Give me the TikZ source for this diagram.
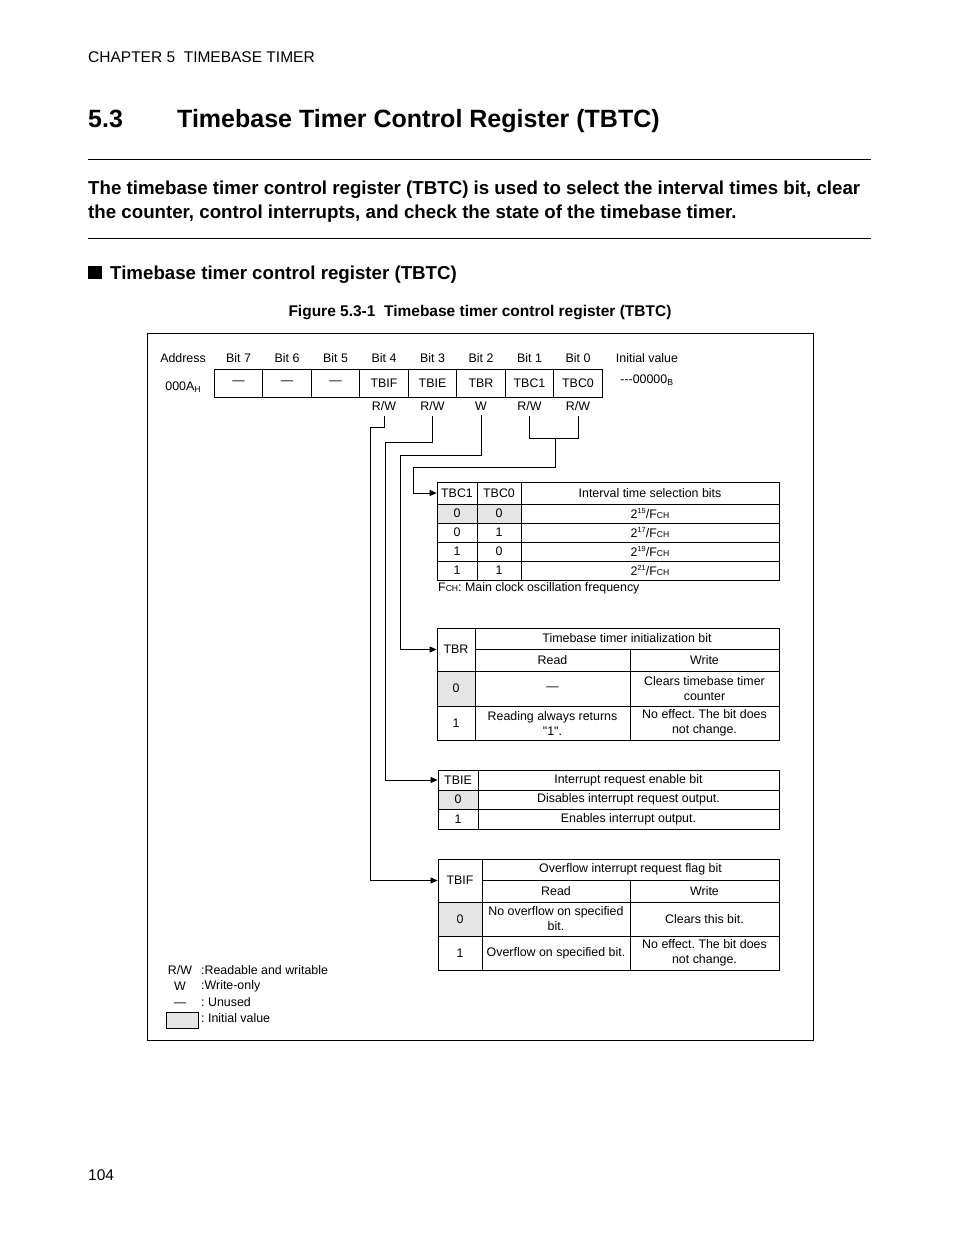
\documentclass[tikz,border=0pt]{standalone}
\usepackage{fontspec}
\setmainfont{Liberation Sans}
\newfontfamily\plainsans{Liberation Sans}
\usepackage{tikz}
\usetikzlibrary{arrows.meta}
\usepackage{xcolor}
\definecolor{initgray}{RGB}{229,229,229}
\frenchspacing
\newcommand{\cellfont}{\fontsize{12.4}{15}\selectfont}
\newcommand{\minicaps}[1]{{\fontsize{8.6}{9}\selectfont #1}}
\newcommand{\fch}{F\minicaps{CH}}
\newcommand{\pw}[1]{2\raisebox{0.42em}{\fontsize{7.4}{8}\selectfont #1}/\fch}
\tikzset{
  cell/.style={draw, line width=0.8pt, inner sep=1pt, align=center, font=\cellfont},
  initcell/.style={cell, fill=initgray},
  lbl/.style={inner sep=1pt, font=\cellfont},
  pagetext/.style={anchor=base west, inner sep=0pt},
  conn/.style={line width=0.8pt},
  arr/.style={conn, -{Triangle[length=7pt, width=6pt]}},
}

\begin{document}
\begin{tikzpicture}[x=1pt, y=-1pt]
  \useasboundingbox[fill=white] (0,0) rectangle (954,1235);
  % page head
  \node[pagetext, font=\fontsize{15.5}{18}\selectfont] (chap) at (88,62.5) {CHAPTER 5\ \ TIMEBASE TIMER};
  \node[pagetext, font=\fontsize{25}{28}\selectfont\bfseries] (secnum) at (88,127) {5.3};
  \node[pagetext, font=\fontsize{25}{28}\selectfont\bfseries] (sectitle) at (177,127) {Timebase Timer Control Register (TBTC)};
  \draw[line width=0.8pt] (88,159) -- (871,159);
  \node[pagetext, font=\fontsize{18.7}{24}\selectfont\bfseries] (intro1) at (88,194.8) {The timebase timer control register (TBTC) is used to select the interval times bit, clear};
  \node[pagetext, font=\fontsize{18.7}{24}\selectfont\bfseries] (intro2) at (88,218.8) {the counter, control interrupts, and check the state of the timebase timer.};
  \draw[line width=0.8pt] (88,238) -- (871,238);
  \fill (88,265.5) rectangle (102,279);
  \node[pagetext, font=\fontsize{18.7}{24}\selectfont\bfseries] (heading) at (110,279) {Timebase timer control register (TBTC)};
  \node[anchor=base, inner sep=0pt, font=\fontsize{15.5}{18}\selectfont\bfseries] (caption) at (480,316.5) {Figure 5.3-1\ \ Timebase timer control register (TBTC)};
  \draw[line width=0.8pt] (147,333) rectangle (813,1040);

  % register
  \node[lbl] (addr) at (183,358) {Address};
  \node[lbl] (addrval) at (183,387) {000A\raisebox{-0.12em}{\minicaps{H}}};
  \foreach \i/\fld in {7/—,6/—,5/—,4/TBIF,3/TBIE,2/TBR,1/TBC1,0/TBC0} {
    \pgfmathsetmacro{\bx}{238.5+(7-\i)*48.5}
    \node[lbl] (bitno\i) at (\bx,358) {Bit \i};
    \node[cell, minimum width=48.5pt, minimum height=28pt] (b\i) at (\bx,383) {\fld};
  }
  \foreach \i/\acc in {4/{R/W},3/{R/W},2/W,1/{R/W},0/{R/W}}
    \path (b\i.center) ++(0,23) node[lbl] (rw\i) {\acc};
  \node[lbl] (initlbl) at (647,358) {Initial value};
  \node[lbl] (initval) at (647,380) {-{}-{}-00000\textsubscript{B}};

  % TBC1, TBC0
  \node[cell, minimum width=40pt, minimum height=22pt] (tbc1) at (457,493) {TBC1};
  \node[cell, minimum width=44pt, minimum height=22pt] (tbc0) at (499,493) {TBC0};
  \node[cell, minimum width=258pt, minimum height=22pt] (tbcsel) at (650,493) {Interval time selection bits};
  \foreach \r/\a/\b/\e/\fc in {0/0/0/15/initgray, 1/0/1/17/white, 2/1/0/19/white, 3/1/1/21/white} {
    \pgfmathsetmacro{\ry}{513.5+\r*19}
    \node[cell, fill=\fc, minimum width=40pt, minimum height=19pt] (tbc1v\r) at (457,\ry) {\a};
    \node[cell, fill=\fc, minimum width=44pt, minimum height=19pt] (tbc0v\r) at (499,\ry) {\b};
    \node[cell, minimum width=258pt, minimum height=19pt] (tbct\r) at (650,\ry) {\pw{\e}};
  }
  \node[lbl, anchor=west] (fchnote) at (437,588) {\fch: Main clock oscillation frequency};

  % TBR
  \node[cell, minimum width=38pt, minimum height=43pt] (tbr) at (456,649.5) {TBR};
  \node[cell, minimum width=304pt, minimum height=21pt] (tbrtitle) at (627,638.5) {Timebase timer initialization bit};
  \node[cell, minimum width=155pt, minimum height=22pt] (tbrread) at (552.5,660) {Read};
  \node[cell, minimum width=149pt, minimum height=22pt] (tbrwrite) at (704.5,660) {Write};
  \node[initcell, minimum width=38pt, minimum height=35pt] (tbr0) at (456,688.5) {0};
  \node[cell, minimum width=155pt, minimum height=35pt] (tbr0r) at (552.5,688.5) {—};
  \node[cell, minimum width=149pt, minimum height=35pt] (tbr0w) at (704.5,688.5) {Clears timebase timer\\counter};
  \node[cell, minimum width=38pt, minimum height=34pt] (tbr1) at (456,723) {1};
  \node[cell, minimum width=155pt, minimum height=34pt] (tbr1r) at (552.5,723) {Reading always returns\\{\plainsans"}1{\plainsans"}.};
  \node[cell, minimum width=149pt, minimum height=34pt] (tbr1w) at (704.5,723) {No effect. The bit does\\not change.};

  % TBIE
  \node[cell, minimum width=40pt, minimum height=20pt] (tbie) at (458,780) {TBIE};
  \node[cell, minimum width=301pt, minimum height=20pt] (tbietitle) at (628.5,780) {Interrupt request enable bit};
  \node[initcell, minimum width=40pt, minimum height=19pt] (tbie0) at (458,799.5) {0};
  \node[cell, minimum width=301pt, minimum height=19pt] (tbie0t) at (628.5,799.5) {Disables interrupt request output.};
  \node[cell, minimum width=40pt, minimum height=20pt] (tbie1) at (458,819) {1};
  \node[cell, minimum width=301pt, minimum height=20pt] (tbie1t) at (628.5,819) {Enables interrupt output.};

  % TBIF
  \node[cell, minimum width=44pt, minimum height=43pt] (tbif) at (460,880.5) {TBIF};
  \node[cell, minimum width=297pt, minimum height=21pt] (tbiftitle) at (630.5,869.5) {Overflow interrupt request flag bit};
  \node[cell, minimum width=148pt, minimum height=22pt] (tbifread) at (556,891) {Read};
  \node[cell, minimum width=149pt, minimum height=22pt] (tbifwrite) at (704.5,891) {Write};
  \node[initcell, minimum width=44pt, minimum height=34pt] (tbif0) at (460,919) {0};
  \node[cell, minimum width=148pt, minimum height=34pt] (tbif0r) at (556,919) {No overflow on specified\\bit.};
  \node[cell, minimum width=149pt, minimum height=34pt] (tbif0w) at (704.5,919) {Clears this bit.};
  \node[cell, minimum width=44pt, minimum height=34pt] (tbif1) at (460,953) {1};
  \node[cell, minimum width=148pt, minimum height=34pt] (tbif1r) at (556,953) {Overflow on specified bit.};
  \node[cell, minimum width=149pt, minimum height=34pt] (tbif1w) at (704.5,953) {No effect. The bit does\\not change.};

  % bit lines to the tables
  \coordinate (tbcjoin) at (555,438);
  \draw[conn] ([yshift=-4pt]rw1.south) -- (rw1 |- tbcjoin) -- (rw0 |- tbcjoin) -- ([yshift=-4pt]rw0.south);
  \draw[arr] (tbcjoin) -- ++(0,29) -| ([xshift=-23pt]tbc1.west) -- (tbc1.west);
  \draw[arr] ([yshift=-4pt]rw2.south) -- ++(0,40) -| ([xshift=-36pt]tbr.west) -- (tbr.west);
  \draw[arr] ([yshift=-4pt]rw3.south) -- ++(0,27) -| ([xshift=-52pt]tbie.west) -- (tbie.west);
  \draw[arr] ([yshift=-4pt]rw4.south) -- ++(0,12) -| ([xshift=-67pt]tbif.west) -- (tbif.west);

  % key
  \node[lbl] (keyrw) at (180,970) {R/W};
  \node[lbl, anchor=west] (keyrwt) at (200,970) {:Readable and writable};
  \node[lbl] (keyw) at (180,986) {W};
  \node[lbl, anchor=west] (keywt) at (200,986) {:Write-only};
  \node[lbl] (keyu) at (180,1005) {—};
  \node[lbl, anchor=west] (keyut) at (200,1002) {: Unused};
  \node[initcell, minimum width=32pt, minimum height=16pt] (keybox) at (182,1020) {};
  \node[lbl, anchor=west] (keyboxt) at (200,1018) {: Initial value};

  \node[pagetext, font=\fontsize{15.5}{18}\selectfont] (pageno) at (88,1180.5) {104};
\end{tikzpicture}
\end{document}
